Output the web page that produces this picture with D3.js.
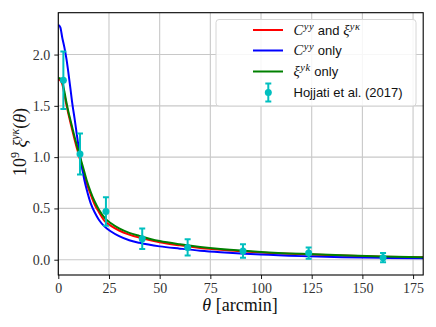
<!DOCTYPE html>
<html><head><meta charset="utf-8">
<script src="https://cdn.jsdelivr.net/npm/d3@7"></script>
<style>
body{margin:0;background:#fff;}
svg{display:block;}
</style></head>
<body><svg id="c" width="436" height="327"></svg>
<script>
const thetaGrid = [0,1,2,3,4,5,6,7,8,9,10,11,12,13,14,16,18,20,23,26,30,35,40,50,60,70,80,90,100,120,140,160,180];
const bothVals  = [1.755,1.748,1.71,1.61,1.51,1.42,1.335,1.255,1.175,1.10,1.03,0.955,0.885,0.815,0.745,0.635,0.535,0.465,0.375,0.33,0.285,0.245,0.215,0.17,0.14,0.115,0.097,0.083,0.071,0.053,0.040,0.030,0.023];
const cyyVals   = [2.29,2.265,2.16,2.07,1.96,1.82,1.665,1.51,1.38,1.24,1.10,0.975,0.865,0.765,0.685,0.55,0.46,0.39,0.32,0.275,0.23,0.19,0.165,0.13,0.108,0.088,0.073,0.061,0.05,0.035,0.025,0.018,0.014];
const xiVals    = [1.772,1.765,1.73,1.64,1.535,1.44,1.36,1.28,1.20,1.125,1.055,0.985,0.915,0.845,0.775,0.66,0.565,0.49,0.405,0.355,0.305,0.262,0.232,0.182,0.15,0.125,0.105,0.089,0.076,0.057,0.043,0.032,0.024];
const obsTheta  = [2.5,10.7,23.5,41.4,63.8,91.1,123.5,160.2];
const obsVal    = [1.75,1.03,0.47,0.205,0.12,0.085,0.065,0.02];
const obsErr    = [0.28,0.2,0.14,0.1,0.08,0.065,0.055,0.045];
const xTicks = [0,25,50,75,100,125,150,175];
const yTicks = [0.0,0.5,1.0,1.5,2.0];

const svg = d3.select("#c");
const L=58.3, R=423.2, T=12.7, B=275;
const x = d3.scaleLinear().domain([0,180]).range([L,R]);
const y = d3.scaleLinear().domain([-0.149,2.408]).range([B,T]);

const defs = svg.append("defs");
defs.append("clipPath").attr("id","clip").append("rect").attr("x",L).attr("y",T).attr("width",R-L).attr("height",B-T);

// grid
const g = svg.append("g");
g.selectAll(".gx").data(xTicks).enter().append("line")
 .attr("x1",d=>x(d)).attr("x2",d=>x(d)).attr("y1",T).attr("y2",B)
 .attr("stroke","#c8c8c8").attr("stroke-width",1.1);
g.selectAll(".gy").data(yTicks).enter().append("line")
 .attr("x1",L).attr("x2",R).attr("y1",d=>y(d)).attr("y2",d=>y(d))
 .attr("stroke","#c8c8c8").attr("stroke-width",1.1);

// curves
const series = [
 {vals: bothVals, color:"#ff0000"},
 {vals: cyyVals, color:"#0000ff"},
 {vals: xiVals, color:"#008000"}
];
const line = d3.line().x(d=>x(d[0])).y(d=>y(d[1])).curve(d3.curveMonotoneX);
const cg = svg.append("g").attr("clip-path","url(#clip)");
series.forEach(s=>{
  cg.append("path").datum(thetaGrid.map((t,i)=>[t,s.vals[i]]))
   .attr("d",line).attr("fill","none").attr("stroke",s.color).attr("stroke-width",2);
});

// error bars
const cyan="#00bfbf";
const eg = cg.append("g");
function errbar(sel,cx,cy,y1,y2){
  sel.append("line").attr("x1",cx).attr("x2",cx).attr("y1",y1).attr("y2",y2).attr("stroke",cyan).attr("stroke-width",2);
  sel.append("line").attr("x1",cx-3).attr("x2",cx+3).attr("y1",y1).attr("y2",y1).attr("stroke",cyan).attr("stroke-width",2);
  sel.append("line").attr("x1",cx-3).attr("x2",cx+3).attr("y1",y2).attr("y2",y2).attr("stroke",cyan).attr("stroke-width",2);
  sel.append("circle").attr("cx",cx).attr("cy",cy).attr("r",3.5).attr("fill",cyan);
}
obsTheta.forEach((t,i)=>{
  errbar(eg, x(t), y(obsVal[i]), y(obsVal[i]+obsErr[i]), y(obsVal[i]-obsErr[i]));
});

// axes
const ax = svg.append("g").attr("transform",`translate(0,${B})`)
 .call(d3.axisBottom(x).tickValues(xTicks).tickSize(4).tickPadding(4).tickFormat(d3.format("d")));
const ay = svg.append("g").attr("transform",`translate(${L},0)`)
 .call(d3.axisLeft(y).tickValues(yTicks).tickSize(4).tickPadding(4).tickFormat(d3.format(".1f")));
[ax,ay].forEach(a=>{
  a.select(".domain").remove();
  a.selectAll("line").attr("stroke","#000").attr("stroke-width",0.9);
  a.selectAll("text").attr("font-family","'Liberation Serif', serif").attr("font-size",14).attr("fill","#333");
});
// frame
svg.append("rect").attr("x",L).attr("y",T).attr("width",R-L).attr("height",B-T)
 .attr("fill","none").attr("stroke","#000").attr("stroke-width",1.1);

// axis labels
const xl = svg.append("text").attr("x",240).attr("y",311).attr("text-anchor","middle")
 .attr("font-family","'Liberation Serif', serif").attr("font-size",18).attr("fill","#111");
xl.append("tspan").attr("font-style","italic").text("θ");
xl.append("tspan").text(" [arcmin]");

const yl = svg.append("text").attr("transform","translate(26,142) rotate(-90)").attr("text-anchor","middle")
 .attr("font-family","'Liberation Serif', serif").attr("font-size",18).attr("fill","#111");
yl.append("tspan").text("10");
yl.append("tspan").attr("font-size",12).attr("dy",-7).text("9");
yl.append("tspan").attr("font-style","italic").attr("dy",7).text(" ξ");
yl.append("tspan").attr("font-style","italic").attr("font-size",12).attr("dy",-7).text("yκ");
yl.append("tspan").attr("dy",7).text("(");
yl.append("tspan").attr("font-style","italic").text("θ");
yl.append("tspan").text(")");

// legend
const lg = svg.append("g");
lg.append("rect").attr("x",216).attr("y",19.5).attr("width",200).attr("height",86.5).attr("rx",3)
 .attr("fill","#fff").attr("fill-opacity",0.85).attr("stroke","#d6d6d6").attr("stroke-width",1);
const legendLabels = [
 [{t:"C",s:"math"},{t:"yy",s:"sup"},{t:" and ",s:"sans"},{t:"ξ",s:"math"},{t:"yκ",s:"sup"}],
 [{t:"C",s:"math"},{t:"yy",s:"sup"},{t:" only",s:"sans"}],
 [{t:"ξ",s:"math"},{t:"yk",s:"sup"},{t:" only",s:"sans"}],
 [{t:"Hojjati et al. (2017)",s:"sans"}]
];
const legendY=[30,50.5,71.5,92.5];
series.forEach((s,i)=>{
  lg.append("line").attr("x1",253).attr("x2",283).attr("y1",legendY[i]).attr("y2",legendY[i]).attr("stroke",s.color).attr("stroke-width",2);
});
errbar(lg, 268.3, legendY[3], legendY[3]-9, legendY[3]+9);
legendLabels.forEach((parts,i)=>{
  const tx = lg.append("text").attr("x",293.5).attr("y",legendY[i]+4.5).attr("fill","#111");
  let up=false;
  parts.forEach(p=>{
    const ts = tx.append("tspan").text(p.t);
    if(p.s==="sup"){
      ts.attr("font-family","'Liberation Serif', serif").attr("font-style","italic").attr("font-size",10.5).attr("dy",-5).attr("dx",0.5).attr("letter-spacing",0.6);
      up=true;
    } else {
      if(up){ ts.attr("dy",5); up=false; }
      if(p.s==="math") ts.attr("font-family","'Liberation Serif', serif").attr("font-style","italic").attr("font-size",14.5);
      else ts.attr("font-family","'Liberation Sans', sans-serif").attr("font-size",13);
    }
  });
});
</script></body></html>
